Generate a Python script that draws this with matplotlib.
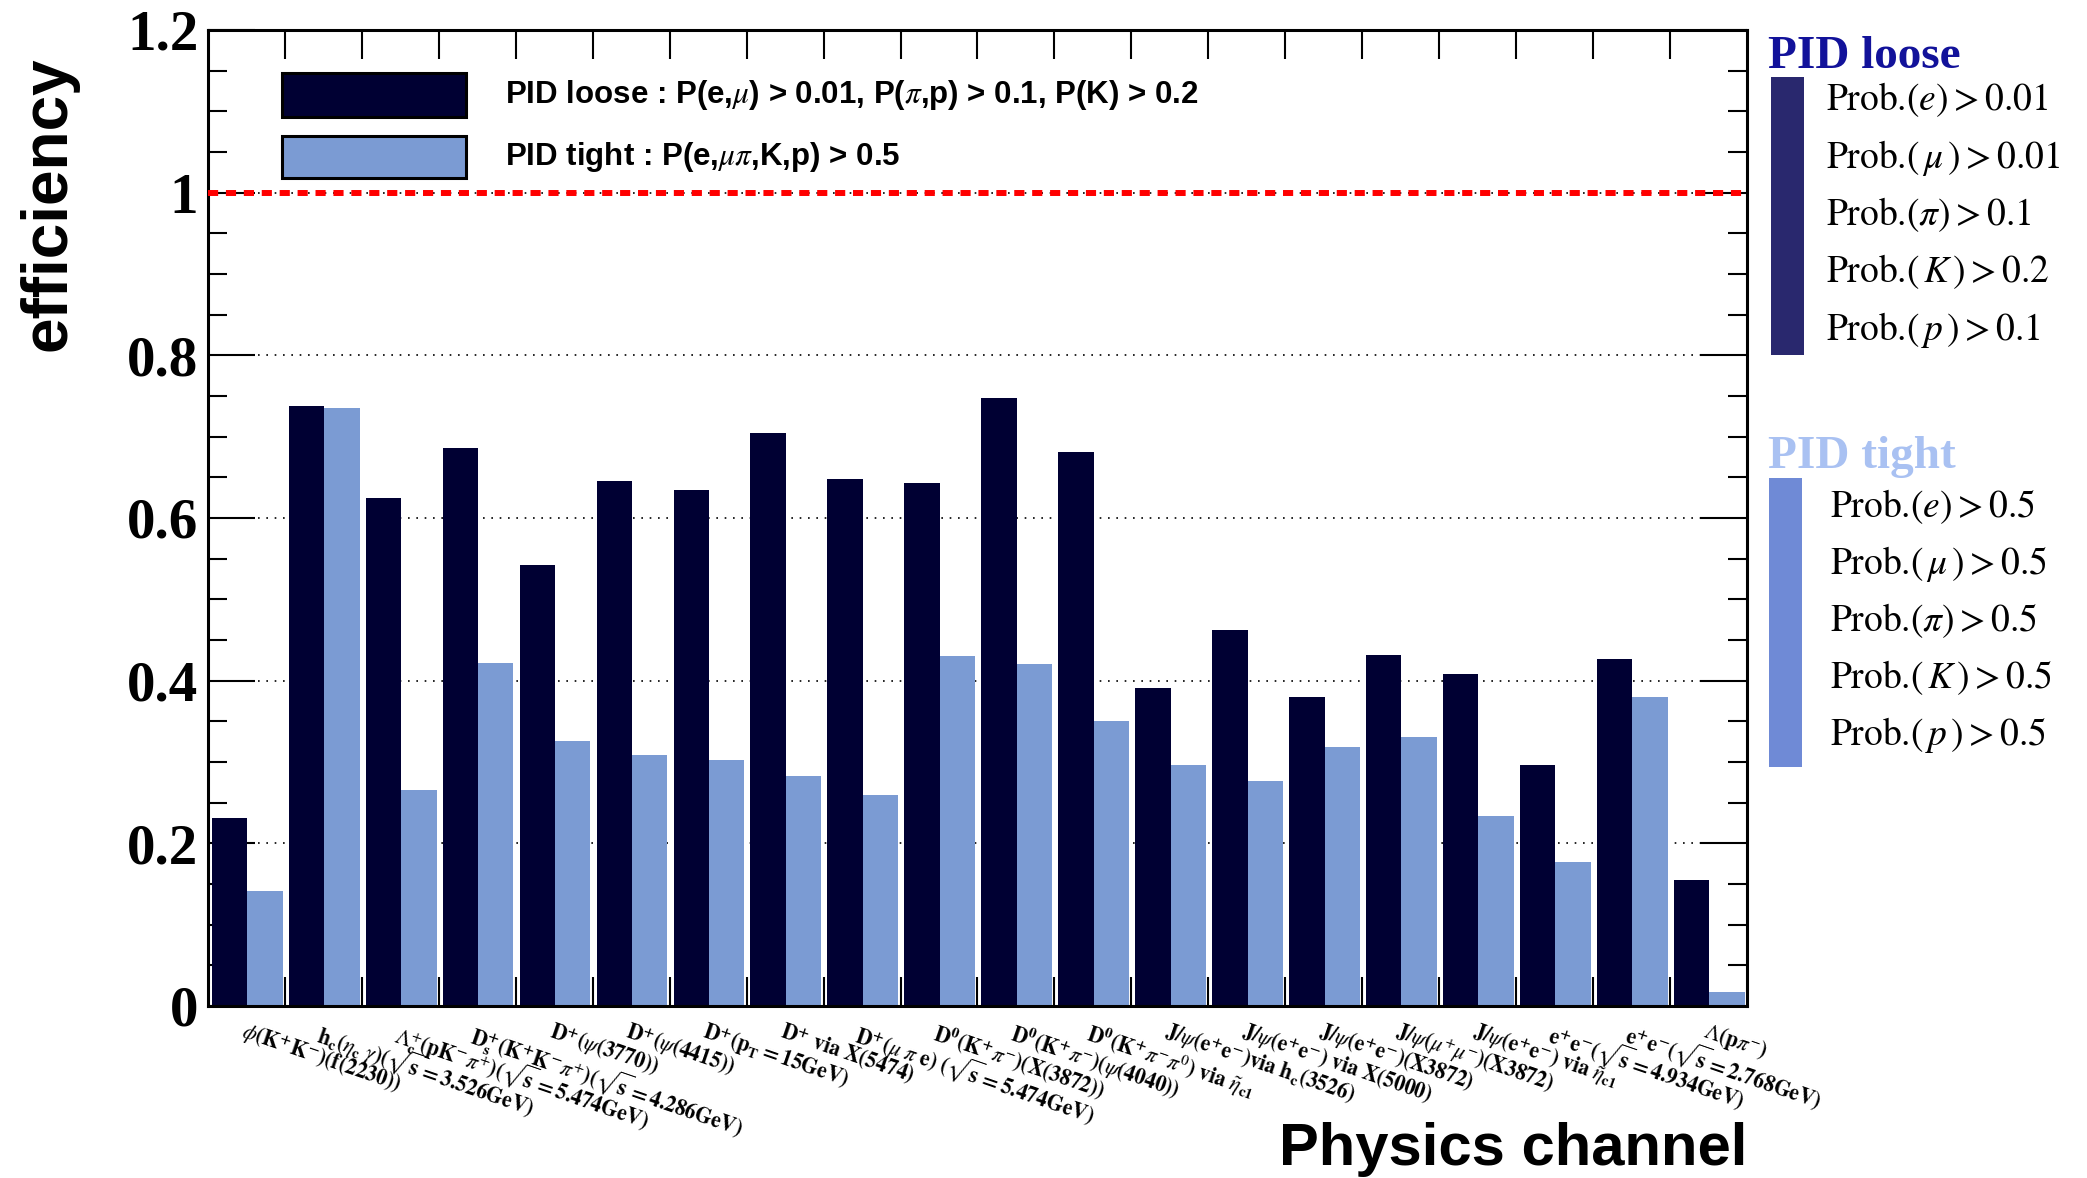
import matplotlib
matplotlib.use('Agg')
import matplotlib.pyplot as plt
from matplotlib.patches import Rectangle
from matplotlib.ticker import MultipleLocator, FixedLocator

plt.rcParams['mathtext.fontset'] = 'stix'

# efficiencies per physics channel
channels = [
    r'$\phi\mathbf{(K^{+}K^{-})(f(2230))}$',
    r'$\mathbf{h_{c}(}\eta_{\mathbf{c}}\ \gamma\mathbf{)(}\sqrt{\mathbf{s}}\mathbf{=3.526GeV)}$',
    r'$\Lambda_{\mathbf{c}}^{+}\mathbf{(pK^{-}}\pi^{+}\mathbf{)(}\sqrt{\mathbf{s}}\mathbf{=5.474GeV)}$',
    r'$\mathbf{D_{s}^{+}(K^{+}K^{-}}\pi^{+}\mathbf{)(}\sqrt{\mathbf{s}}\mathbf{=4.286GeV)}$',
    r'$\mathbf{D^{+}(}\psi\mathbf{(3770))}$',
    r'$\mathbf{D^{+}(}\psi\mathbf{(4415))}$',
    r'$\mathbf{D^{+}(p_{T}=15GeV)}$',
    r'$\mathbf{D^{+}\ via\ X(5474)}$',
    r'$\mathbf{D^{+}(}\mu\ \pi\ \mathbf{e)\ (}\sqrt{\mathbf{s}}\mathbf{=5.474GeV)}$',
    r'$\mathbf{D^{0}(K^{+}}\pi^{-}\mathbf{)(X(3872))}$',
    r'$\mathbf{D^{0}(K^{+}}\pi^{-}\mathbf{)(}\psi\mathbf{(4040))}$',
    r'$\mathbf{D^{0}(K^{+}}\pi^{-}\pi^{0}\mathbf{)\ via\ }\tilde{\eta}_{\mathbf{c1}}$',
    r'$\mathbf{J/}\psi\mathbf{(e^{+}e^{-})via\ h_{c}(3526)}$',
    r'$\mathbf{J/}\psi\mathbf{(e^{+}e^{-})\ via\ X(5000)}$',
    r'$\mathbf{J/}\psi\mathbf{(e^{+}e^{-})(X3872)}$',
    r'$\mathbf{J/}\psi\mathbf{(}\mu^{+}\mu^{-}\mathbf{)(X3872)}$',
    r'$\mathbf{J/}\psi\mathbf{(e^{+}e^{-})\ via\ }\tilde{\eta}_{\mathbf{c1}}$',
    r'$\mathbf{e^{+}e^{-}(}\sqrt{\mathbf{s}}\mathbf{=4.934GeV)}$',
    r'$\mathbf{e^{+}e^{-}(}\sqrt{\mathbf{s}}\mathbf{=2.768GeV)}$',
    r'$\Lambda\mathbf{(p}\pi^{-}\mathbf{)}$',
]
eff_loose = [0.231, 0.738, 0.624, 0.686, 0.542, 0.645, 0.635, 0.704, 0.648, 0.643,
             0.748, 0.681, 0.391, 0.462, 0.380, 0.432, 0.408, 0.296, 0.427, 0.155]
eff_tight = [0.142, 0.735, 0.265, 0.422, 0.326, 0.309, 0.303, 0.283, 0.260, 0.430,
             0.421, 0.350, 0.296, 0.277, 0.319, 0.331, 0.234, 0.177, 0.380, 0.017]

yticks = [0, 0.2, 0.4, 0.6, 0.8, 1.0, 1.2]
ytick_labels = ['0', '0.2', '0.4', '0.6', '0.8', '1', '1.2']

loose_cuts = [r'Prob.$(e) > 0.01$', r'Prob.$(\,\mu\,) > 0.01$',
              r'Prob.$(\pi) > 0.1$', r'Prob.$(\,K\,) > 0.2$',
              r'Prob.$(\,p\,) > 0.1$']
tight_cuts = [r'Prob.$(e) > 0.5$', r'Prob.$(\,\mu\,) > 0.5$',
              r'Prob.$(\pi) > 0.5$', r'Prob.$(\,K\,) > 0.5$',
              r'Prob.$(\,p\,) > 0.5$']

dark = '#000033'
light = '#7b9bd3'

W, H = 2087, 1178
fig = plt.figure(figsize=(W / 100, H / 100), dpi=100)


def fx(px):
    return px / W


def fy(py):
    return 1 - py / H


ax = fig.add_axes([fx(208), fy(1006), fx(1747) - fx(208), fy(30) - fy(1006)])

n = len(channels)
xs = list(range(n))
ax.bar([x + 0.05 for x in xs], eff_loose, width=0.46, align='edge', color=dark, zorder=2)
ax.bar([x + 0.51 for x in xs], eff_tight, width=0.46, align='edge', color=light, zorder=2)

ax.set_xlim(0, n)
ax.set_ylim(0, 1.2)

# dotted grid and the 100% line
for v in yticks[1:-1]:
    ax.axhline(v, color='black', lw=1.2, ls=(0, (1, 4)), zorder=1)
ax.axhline(1.0, color='red', lw=4.3, ls=(0, (1.7, 1.3)), zorder=3)

# y axis, ticks on both sides
ax.yaxis.set_major_locator(FixedLocator(yticks))
ax.set_yticklabels(ytick_labels)
ax.yaxis.set_minor_locator(MultipleLocator(0.05))
ax.tick_params(axis='y', which='major', direction='in', length=34, width=1.5,
               left=True, right=True, pad=7)
ax.tick_params(axis='y', which='minor', direction='in', length=14, width=1.5,
               left=True, right=True)
for lab in ax.get_yticklabels():
    lab.set_family('Liberation Serif')
    lab.set_weight('bold')
    lab.set_fontsize(41)

# x axis: ticks at bin edges, labels at bin centres
ax.xaxis.set_major_locator(FixedLocator(range(1, n)))
ax.xaxis.set_minor_locator(FixedLocator([x + 0.5 for x in xs]))
ax.set_xticklabels([], minor=False)
ax.set_xticklabels(channels, minor=True)
ax.tick_params(axis='x', which='major', direction='in', length=21, width=1.5,
               top=True, bottom=True)
ax.tick_params(axis='x', which='minor', length=0, pad=9, labelsize=15.5)
for lab in ax.get_xticklabels(minor=True):
    lab.set_rotation(-19)
    lab.set_ha('left')
    lab.set_va('top')
    lab.set_rotation_mode('anchor')

for s in ax.spines.values():
    s.set_linewidth(2.2)

# legend inside the frame
fig.add_artist(Rectangle((fx(282), fy(117)), fx(466) - fx(282), fy(73) - fy(117),
                         transform=fig.transFigure, facecolor=dark, edgecolor='black', lw=2.2))
fig.add_artist(Rectangle((fx(282), fy(178)), fx(466) - fx(282), fy(136) - fy(178),
                         transform=fig.transFigure, facecolor=light, edgecolor='black', lw=2.2))
fig.text(fx(505), fy(95), r'PID loose : P(e,$\mu$) > 0.01, P($\pi$,p) > 0.1, P(K) > 0.2',
         family='Liberation Sans', weight='bold', fontsize=22.5, va='center', ha='left')
fig.text(fx(505), fy(157), r'PID tight : P(e,$\mu\pi$,K,p) > 0.5',
         family='Liberation Sans', weight='bold', fontsize=22.5, va='center', ha='left')

# cut summary on the right
fig.text(fx(1768), fy(68), 'PID loose', family='Liberation Serif', weight='bold',
         fontsize=34, color='#12129a', va='baseline')
fig.add_artist(Rectangle((fx(1771), fy(355)), fx(1804) - fx(1771), fy(77) - fy(355),
                         transform=fig.transFigure, facecolor='#29286e', lw=0))
for k, t in enumerate(loose_cuts):
    fig.text(fx(1826), fy(110 + 57.5 * k), t, family='STIXGeneral', fontsize=27,
             va='baseline')

fig.text(fx(1768), fy(468), 'PID tight', family='Liberation Serif', weight='bold',
         fontsize=34, color='#a9c1f2', va='baseline')
fig.add_artist(Rectangle((fx(1769), fy(767)), fx(1802) - fx(1769), fy(478) - fy(767),
                         transform=fig.transFigure, facecolor='#6f8ad6', lw=0))
for k, t in enumerate(tight_cuts):
    fig.text(fx(1830), fy(517 + 57 * k), t, family='STIXGeneral', fontsize=27,
             va='baseline')

# axis titles
fig.text(fx(49), fy(204), 'efficiency', family='Liberation Sans', weight='bold',
         fontsize=46, rotation=90, ha='center', va='center')
fig.text(fx(1747), fy(1165), 'Physics channel', family='Liberation Sans', weight='bold',
         fontsize=43, ha='right', va='baseline')

fig.savefig('out.png', dpi=100)
